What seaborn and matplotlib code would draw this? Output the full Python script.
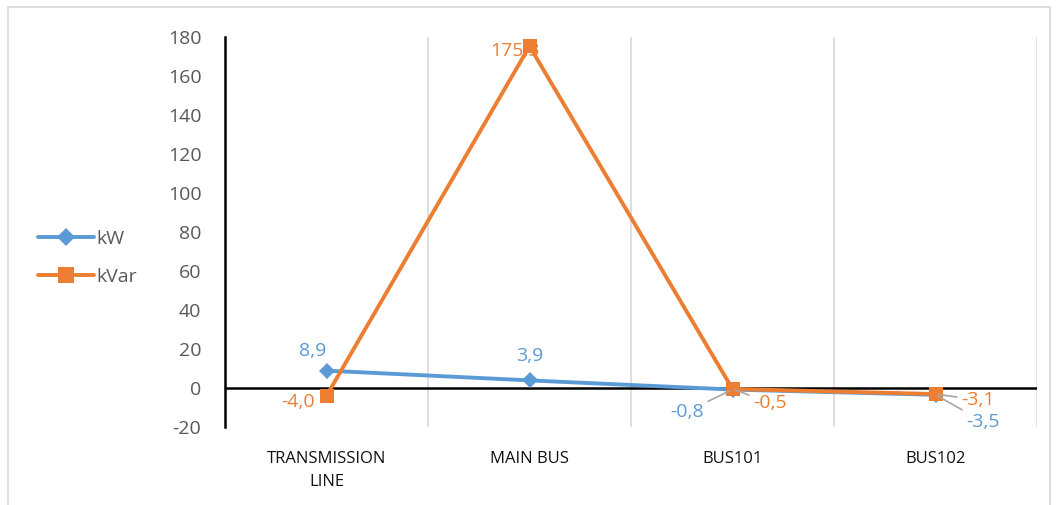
import matplotlib
matplotlib.use("Agg")
import matplotlib.pyplot as plt
import seaborn as sns
import pandas as pd
from matplotlib.lines import Line2D

# Power values per node
categories = ["TRANSMISSION\nLINE", "MAIN BUS", "BUS101", "BUS102"]
kw_values = [8.9, 3.9, -0.8, -3.5]
kvar_values = [-4.0, 175.3, -0.5, -3.1]
y_ticks = [-20, 0, 20, 40, 60, 80, 100, 120, 140, 160, 180]

KW_COLOR = "#5B9BD5"
KVAR_COLOR = "#ED7D31"
TEXT_GRAY = "#595959"
GRID_GRAY = "#D9D9D9"

sns.set_style("white")
plt.rcParams["font.family"] = ["Open Sans", "DejaVu Sans"]

df = pd.DataFrame({
    "pos": list(range(len(categories))) * 2,
    "value": kw_values + kvar_values,
    "series": ["kW"] * len(kw_values) + ["kVar"] * len(kvar_values),
})

fig = plt.figure(figsize=(10.59, 5.05), dpi=100)
ax = fig.add_axes([225 / 1059, 1 - 427 / 505, (1037 - 225) / 1059, (427 - 37) / 505])

sns.lineplot(data=df, x="pos", y="value", hue="series", style="series",
             palette={"kW": KW_COLOR, "kVar": KVAR_COLOR},
             markers={"kW": "D", "kVar": "s"}, dashes=False,
             markersize=10, markeredgewidth=0, linewidth=2.8,
             ax=ax, legend=False, zorder=3)
for line in ax.lines:
    if line.get_marker() == "D":
        line.set_markersize(8.5)

ax.set_xlim(-0.5, len(categories) - 0.5)
ax.set_ylim(-20, 180)
ax.set_yticks(y_ticks)
ax.set_yticklabels([str(t) for t in y_ticks], color=TEXT_GRAY, fontsize=14)
ax.set_xticks(range(len(categories)))
ax.set_xticklabels(categories, fontsize=12, color="#111111", linespacing=1.6)
ax.tick_params(axis="y", length=0, pad=17)
ax.tick_params(axis="x", length=0, pad=17)
ax.set_xlabel("")
ax.set_ylabel("")

for s in ["top", "right", "bottom"]:
    ax.spines[s].set_visible(False)
ax.spines["left"].set_color("black")
ax.spines["left"].set_linewidth(1.8)
ax.spines["left"].set_zorder(4)

# vertical separators between categories
for b in [0.5, 1.5, 2.5, 3.5]:
    ax.axvline(b, color=GRID_GRAY, linewidth=1.2, zorder=0)
ax.axhline(0, color="black", linewidth=1.8, zorder=2)

lead = dict(arrowstyle="-", color="#A6A6A6", linewidth=1.2, shrinkA=1, shrinkB=2)

def label(x, y, text, color, dx, dy, ha="center", va="center", leader=False):
    kw = dict(textcoords="offset pixels", color=color, fontsize=14, ha=ha, va=va, zorder=5)
    if leader:
        kw["arrowprops"] = lead
    ax.annotate(text, xy=(x, y), xytext=(dx, dy), **kw)

fmt = lambda v: f"{v:.1f}".replace(".", ",")

# kW labels
label(0, kw_values[0], fmt(kw_values[0]), KW_COLOR, -14, 20)
label(1, kw_values[1], fmt(kw_values[1]), KW_COLOR, 0, 24)
label(2, kw_values[2], fmt(kw_values[2]), KW_COLOR, -29, -22, ha="right", leader=True)
label(3, kw_values[3], fmt(kw_values[3]), KW_COLOR, 31, -27, ha="left", leader=True)
# kVar labels
label(0, kvar_values[0], fmt(kvar_values[0]), KVAR_COLOR, -12, -6, ha="right")
ax.annotate(fmt(kvar_values[1]), xy=(1, kvar_values[1]), xytext=(10, -5),
            textcoords="offset pixels", color=KVAR_COLOR, fontsize=14,
            ha="right", va="center", zorder=2)
label(2, kvar_values[2], fmt(kvar_values[2]), KVAR_COLOR, 21, -14, ha="left", leader=True)
label(3, kvar_values[3], fmt(kvar_values[3]), KVAR_COLOR, 26, -6, ha="left", leader=True)

# legend on the left side
handles = [
    Line2D([0], [0], color=KW_COLOR, marker="D", markersize=9, markeredgewidth=0, linewidth=2.8),
    Line2D([0], [0], color=KVAR_COLOR, marker="s", markersize=11, markeredgewidth=0, linewidth=2.8),
]
fig.legend(handles, ["kW", "kVar"], loc="center left",
           bbox_to_anchor=(20 / 1059, 1 - 258 / 505), frameon=False,
           fontsize=14, labelcolor=TEXT_GRAY, handlelength=2.9,
           handletextpad=0.15, labelspacing=1.0)

# chart-area border
fig.add_artist(plt.Rectangle((8 / 1059, -0.02), (1050 - 8) / 1059, 1 - 7 / 505 + 0.02,
                             transform=fig.transFigure, fill=False,
                             edgecolor=GRID_GRAY, linewidth=1.2))

fig.savefig("out.png", dpi=100)
